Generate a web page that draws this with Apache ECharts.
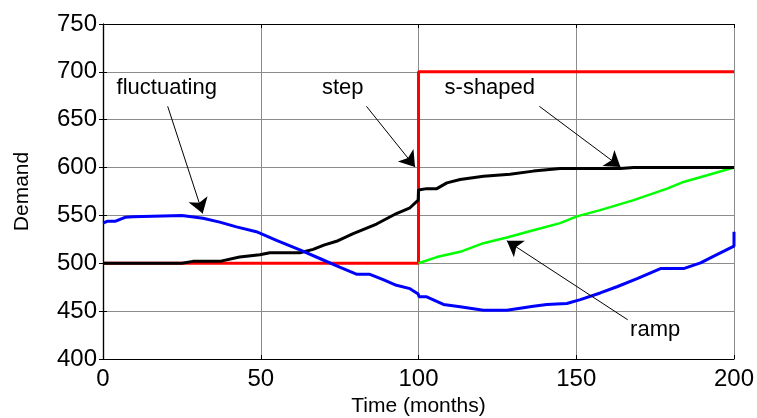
<!DOCTYPE html>
<html>
<head>
<meta charset="utf-8">
<script src="https://cdn.jsdelivr.net/npm/echarts@6/dist/echarts.min.js"></script>
<style>
  html, body { margin: 0; padding: 0; background: #fff; }
  #chart { width: 757px; height: 418px; }
</style>
</head>
<body>
<div id="chart"></div>
<script>
// demand curves, [month, demand]
var stepData = [[0, 500], [100, 500], [100, 700], [200, 700]];
var rampData = [[100, 500], [105.8, 506.5], [113.2, 512], [120.6, 521], [128, 527], [136.4, 534.5],
  [144.9, 542], [150.2, 549], [157.6, 555.5], [168.2, 566], [178.8, 578], [184, 585], [191.5, 592], [200, 600]];
var sShapedData = [[0, 500], [25, 500], [28.5, 502], [37, 502], [43.3, 506.5], [49.7, 509], [52.9, 511],
  [62.4, 511], [66.6, 514.5], [70, 519], [74, 523], [79.3, 531], [86.7, 541], [93, 552], [97.3, 558],
  [99.9, 566], [100, 576.5], [102.6, 578], [105.8, 578], [109, 584], [113.2, 587.5], [120.6, 591],
  [129, 593], [136.4, 596.3], [144.9, 599], [164, 599], [168.2, 600], [200, 600]];
var fluctuatingData = [[0, 542], [1.5, 544], [4, 544], [7, 548], [9.5, 548.5], [10, 550], [25, 550],
  [31.7, 547], [37, 543], [42.3, 538], [48.6, 533], [55, 524], [62.4, 514], [68.7, 505], [75, 496],
  [80.5, 488.5], [84.6, 488.5], [88.8, 483], [93, 477], [97.3, 473.5], [99.9, 468], [100.2, 465],
  [102.6, 465], [107.9, 457], [113.2, 454.5], [120.6, 451], [128, 451], [136.4, 455], [140.7, 457],
  [147, 458], [151.3, 462], [157.6, 469], [162.9, 475.5], [169.3, 484], [176.7, 494.5], [184, 494.5],
  [189.4, 500.5], [193.6, 507.5], [200, 518], [200, 533]];

// annotations: text and its centre, arrow tail and head (data units)
var noteNames = ['fluctuating', 'step', 's-shaped', 'ramp'];
var notePos = [[20.2, 683], [76, 683], [122.6, 683], [175, 430]];
var arrowFrom = [[20.5, 664], [83.5, 664], [138.3, 664], [166.3, 441]];
var arrowTo = [[31.6, 552], [98.9, 600.7], [164, 600.7], [128, 523.5]];

var xTicks = { min: 0, max: 200, interval: 50 };
var yTicks = { min: 400, max: 750, interval: 50 };

var myChart = echarts.init(document.getElementById('chart'));

var font = 'Liberation Sans, Arial, sans-serif';
var gridLine = { show: true, lineStyle: { color: '#8c8c8c', width: 1 } };

var noteData = noteNames.map(function (n, i) { return { name: n, value: notePos[i] }; });
var arrowData = arrowFrom.map(function (p, i) { return [{ coord: p }, { coord: arrowTo[i] }]; });

function boxAxis(pos, t) {
  return {
    type: 'value', position: pos, min: t.min, max: t.max, interval: t.interval,
    axisLine: { show: true, lineStyle: { color: '#000', width: 1.2 } },
    axisTick: { show: true, inside: true, length: 4, lineStyle: { color: '#000' } },
    axisLabel: { show: false },
    splitLine: { show: false }
  };
}

var option = {
  animation: false,
  grid: { left: 103, right: 23, top: 24, bottom: 59, outerBoundsMode: 'none' },
  xAxis: [
    {
      type: 'value', min: xTicks.min, max: xTicks.max, interval: xTicks.interval,
      name: 'Time (months)', nameLocation: 'middle', nameGap: 36,
      nameTextStyle: { fontFamily: font, fontSize: 21, color: '#000' },
      axisLine: { show: true, lineStyle: { color: '#000', width: 1.2 } },
      axisTick: { show: true, inside: true, length: 4, lineStyle: { color: '#000' } },
      axisLabel: { fontFamily: font, fontSize: 24, color: '#000', margin: 8 },
      splitLine: gridLine
    },
    boxAxis('top', xTicks)
  ],
  yAxis: [
    {
      type: 'value', min: yTicks.min, max: yTicks.max, interval: yTicks.interval,
      name: 'Demand', nameLocation: 'middle', nameGap: 70,
      nameTextStyle: { fontFamily: font, fontSize: 21, color: '#000' },
      axisLine: { show: true, lineStyle: { color: '#000', width: 1.2 } },
      axisTick: { show: true, inside: true, length: 4, lineStyle: { color: '#000' } },
      axisLabel: { fontFamily: font, fontSize: 24, color: '#000', margin: 6 },
      splitLine: gridLine
    },
    boxAxis('right', yTicks)
  ],
  series: [
    { name: 'step', type: 'line', data: stepData, showSymbol: false,
      lineStyle: { color: '#ff0000', width: 3 } },
    { name: 'ramp', type: 'line', data: rampData, showSymbol: false,
      lineStyle: { color: '#00ff00', width: 2.5 } },
    { name: 's-shaped', type: 'line', data: sShapedData, showSymbol: false,
      lineStyle: { color: '#000000', width: 3 } },
    { name: 'fluctuating', type: 'line', data: fluctuatingData, showSymbol: false,
      lineStyle: { color: '#0000ff', width: 3 } },
    {
      name: 'notes', type: 'scatter', data: noteData, symbolSize: 0, silent: true,
      itemStyle: { opacity: 1, color: '#000' },
      label: {
        show: true, position: 'inside', formatter: '{b}', opacity: 1,
        fontFamily: font, fontSize: 22, color: '#000'
      },
      markLine: {
        silent: true, symbol: ['none', 'arrow'], symbolSize: 15,
        label: { show: false },
        lineStyle: { color: '#000', width: 1, type: 'solid', opacity: 1 },
        data: arrowData
      }
    }
  ]
};

myChart.setOption(option);
</script>
</body>
</html>
